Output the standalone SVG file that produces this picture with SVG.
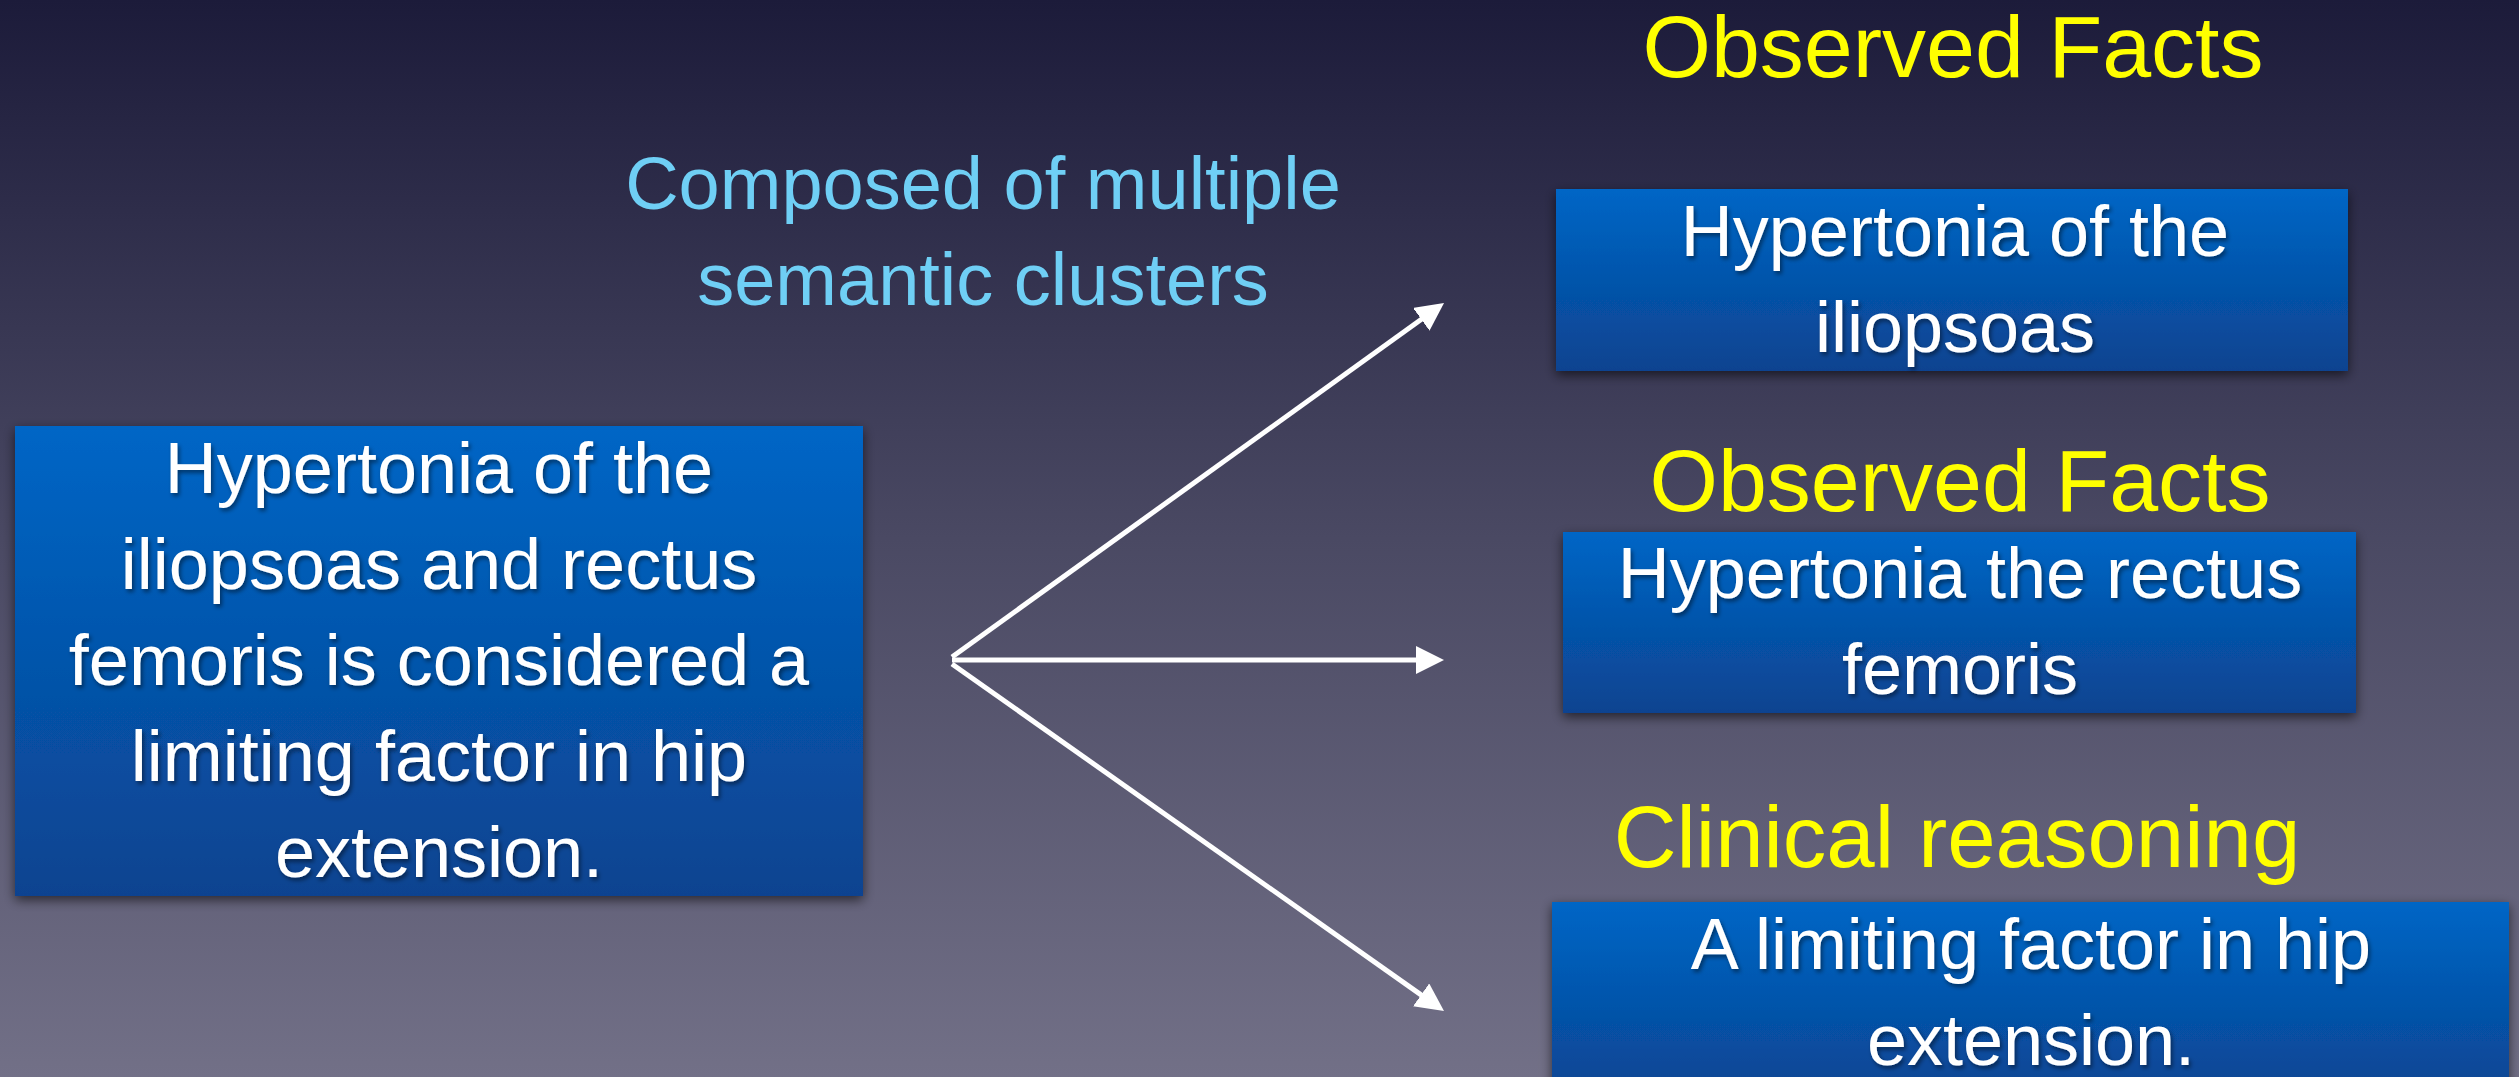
<svg xmlns="http://www.w3.org/2000/svg" width="2519" height="1077" viewBox="0 0 2519 1077">
  <defs>
    <linearGradient id="bg" x1="0" y1="0" x2="0" y2="1">
      <stop offset="0" stop-color="#1c1b3a"/>
      <stop offset="0.5" stop-color="#4a4963"/>
      <stop offset="1" stop-color="#727087"/>
    </linearGradient>
    <linearGradient id="boxfill" x1="0" y1="0" x2="0" y2="1">
      <stop offset="0" stop-color="#0066c6"/>
      <stop offset="1" stop-color="#0a4390"/>
    </linearGradient>
    <filter id="boxshadow" x="-10%" y="-20%" width="120%" height="140%">
      <feDropShadow dx="0" dy="4" stdDeviation="6" flood-color="#000" flood-opacity="0.6"/>
    </filter>
    <filter id="textshadow" x="-5%" y="-20%" width="110%" height="140%">
      <feDropShadow dx="2" dy="3" stdDeviation="2" flood-color="#000" flood-opacity="0.45"/>
    </filter>
    <marker id="arrow" markerUnits="userSpaceOnUse" markerWidth="28" markerHeight="28" refX="16" refY="14" orient="auto">
      <path d="M0,0 L28,14 L0,28 z" fill="#ffffff"/>
    </marker>
    <style>
      .box { fill: url(#boxfill); filter: url(#boxshadow); }
      .btxt { font-family: "Liberation Sans", Arial, sans-serif; font-size: 72px; fill: #ffffff; text-anchor: middle; filter: url(#textshadow); }
      .title { font-family: "Liberation Sans", Arial, sans-serif; font-size: 88px; fill: #ffff00; text-anchor: middle; }
      .note { font-family: "Liberation Sans", Arial, sans-serif; font-size: 74px; fill: #6fcff5; text-anchor: middle; }
      .conn { stroke: #ffffff; stroke-width: 5; fill: none; marker-end: url(#arrow); }
    </style>
  </defs>

  <rect x="0" y="0" width="2519" height="1077" fill="url(#bg)"/>

  <g id="label-composed">
    <text class="note" x="983" y="209">Composed of multiple</text>
    <text class="note" x="983" y="305">semantic clusters</text>
  </g>

  <g id="node-source">
    <rect class="box" x="15" y="426" width="848" height="470"/>
    <text class="btxt" x="439" y="493">Hypertonia of the</text>
    <text class="btxt" x="439" y="589">iliopsoas and rectus</text>
    <text class="btxt" x="439" y="685">femoris is considered a</text>
    <text class="btxt" x="439" y="781">limiting factor in hip</text>
    <text class="btxt" x="439" y="877">extension.</text>
  </g>

  <g id="title-1">
    <text class="title" x="1953" y="77">Observed Facts</text>
  </g>
  <g id="node-fact-1">
    <rect class="box" x="1556" y="189" width="792" height="182"/>
    <text class="btxt" x="1955" y="256">Hypertonia of the</text>
    <text class="btxt" x="1955" y="352">iliopsoas</text>
  </g>

  <g id="title-2">
    <text class="title" x="1960" y="511">Observed Facts</text>
  </g>
  <g id="node-fact-2">
    <rect class="box" x="1563" y="532" width="793" height="181"/>
    <text class="btxt" x="1960" y="598">Hypertonia the rectus</text>
    <text class="btxt" x="1960" y="694">femoris</text>
  </g>

  <g id="title-3">
    <text class="title" x="1957" y="867" style="font-size:87px">Clinical reasoning</text>
  </g>
  <g id="node-reasoning">
    <rect class="box" x="1552" y="902" width="957" height="200"/>
    <text class="btxt" x="2031" y="969">A limiting factor in hip</text>
    <text class="btxt" x="2031" y="1065">extension.</text>
  </g>

  <g id="connectors">
    <line class="conn" x1="952" y1="657" x2="1434.3" y2="310"/>
    <line class="conn" x1="952" y1="660" x2="1432" y2="660"/>
    <line class="conn" x1="952" y1="664" x2="1434.2" y2="1004.1"/>
  </g>
</svg>
